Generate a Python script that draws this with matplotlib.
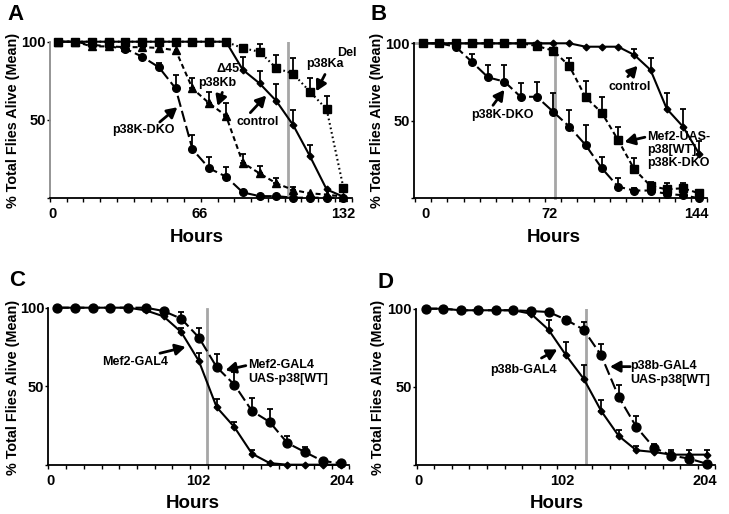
import numpy as np
import matplotlib
matplotlib.use('Agg')
import matplotlib.pyplot as plt

plt.rcParams['font.family'] = ['Liberation Sans', 'DejaVu Sans']
plt.rcParams['font.weight'] = 'bold'

W, H = 729, 514

# ── Data (survival, % alive; upward error bars) ──────────────────────────────
# Panel A: 18 time points, 0..132 h
a_ticks = ['0', '66', '132']
a_ctrl = [100, 100, 100, 100, 100, 100, 100, 100, 100, 100, 100, 82, 73.3, 62, 46.6, 26.7, 5.3, 0.6]
a_ctrl_err = [0, 0, 0, 0, 0, 0, 0, 0, 0, 0, 0, 8, 8, 11, 9.6, 7.3, 0, 0]
a_dko = [100, 100, 98, 97, 95.5, 90.4, 83.6, 70, 31, 18.8, 13.5, 3.4, 1, 1, 0, 0, 0, 0]
a_dko_err = [0, 0, 0, 0, 0, 0, 3, 8.5, 9, 7.2, 6.5, 0, 0, 0, 0, 0, 0, 0]
a_kb = [100, 100, 97, 97, 96.5, 96.5, 96, 94.5, 70, 60.5, 52.5, 22.4, 15.6, 9.2, 5, 2.8, 2, 0.6]
a_kb_err = [0, 0, 0, 0, 0, 0, 0, 0, 6.5, 7.5, 8, 5.6, 5, 3.2, 2, 0, 0, 0]
a_ka = [100, 100, 100, 100, 100, 100, 100, 100, 100, 100, 100, 95.8, 93.6, 83, 79.5, 68, 56.7, 6.4]
a_ka_err = [0, 0, 0, 0, 0, 0, 0, 0, 0, 0, 0, 0, 5, 8.5, 10, 9, 8.5, 0]

# Panel B: 18 time points, 0..144 h
b_ticks = ['0', '72', '144']
b_ctrl = [100, 100, 100, 100, 100, 100, 100, 100, 100, 100, 97.8, 97.8, 97.8, 92.5, 82.8, 57.7, 46.2, 28.6]
b_ctrl_err = [0, 0, 0, 0, 0, 0, 0, 0, 0, 0, 0, 0, 0, 3.5, 7.5, 10.4, 11.2, 8.4]
b_dko = [100, 100, 97.8, 88, 78, 75.3, 65.5, 65.5, 55.9, 46.2, 34.4, 19.4, 7.5, 5, 5, 2.8, 2, 0]
b_dko_err = [0, 0, 0, 5, 8, 10.5, 9, 9.3, 11.8, 10.8, 13, 7.4, 5.4, 1.5, 1.5, 0, 0, 0]
b_rescue = [100, 100, 100, 100, 100, 100, 100, 98.3, 95.3, 85.4, 65.2, 55.2, 37.6, 18.7, 8, 5.8, 6.5, 3.2]
b_rescue_err = [0, 0, 0, 0, 0, 0, 0, 0, 0, 5, 10.7, 10.3, 8.6, 7.1, 2.8, 3.9, 3.5, 2.2]

# Panel C: 17 time points, 0..204 h
c_ticks = ['0', '102', '204']
c_gal4 = [100, 100, 100, 100, 100, 98.3, 94.5, 84.5, 66, 36.7, 24, 7, 1, 0, 0, 0, 0]
c_gal4_err = [0, 0, 0, 0, 0, 0, 0, 2.8, 5, 5.3, 3.2, 2.6, 0, 0, 0, 0, 0]
c_uas = [100, 100, 100, 100, 100, 100, 97.9, 93, 81, 62.2, 51, 34.2, 27.2, 13.8, 8, 2.3, 1]
c_uas_err = [0, 0, 0, 0, 0, 0, 0, 4.2, 6.3, 8.5, 8, 8.5, 8.5, 4.2, 3.3, 0, 0]

# Panel D: 17 time points, 0..204 h
d_ticks = ['0', '102', '204']
d_gal4 = [100, 100, 99, 99, 99, 99, 96.8, 86.6, 70.2, 55.3, 34.7, 18.7, 9.6, 8.5, 6.8, 6.8, 6.8]
d_gal4_err = [0, 0, 0, 0, 0, 0, 0, 6, 8.5, 8.5, 6.8, 3.6, 2.5, 1.5, 3.2, 3.2, 3.2]
d_uas = [100, 100, 99, 99, 99, 99, 98.5, 97.9, 93, 86.6, 70.2, 43.6, 24.5, 11.3, 6.2, 4.3, 1]
d_uas_err = [0, 0, 0, 0, 0, 0, 0, 0, 2, 4.9, 7, 7.4, 6.8, 2.5, 2.3, 0, 0]


def px_axes(fig, left, top, right, bottom):
    return fig.add_axes([left / W, 1 - bottom / H, (right - left) / W, (bottom - top) / H])


def style_axes(ax, n, xlim, tick_pos, tick_lab, ycolor='k'):
    ax.set_xlim(*xlim)
    ax.set_ylim(0, 100)
    for s in ('top', 'right'):
        ax.spines[s].set_visible(False)
    ax.spines['left'].set_color(ycolor)
    ax.spines['left'].set_linewidth(1.3)
    ax.spines['bottom'].set_linewidth(1.3)
    ax.set_xticks(tick_pos)
    ax.set_xticklabels(tick_lab, fontsize=10.5, fontweight='bold')
    ax.set_xticks(np.arange(n + 1) - 0.5, minor=True)
    ax.tick_params(axis='x', which='major', length=0, pad=6.5)
    ax.tick_params(axis='x', which='minor', length=3, width=1, direction='out')
    ax.set_yticks([0, 50, 100])
    ax.set_yticklabels(['', '50', '100'], fontsize=10.5, fontweight='bold')
    ax.tick_params(axis='y', length=2, width=1, pad=1, colors='k')


def series(ax, y, err, marker, ms, ls):
    x = np.arange(len(y))
    y = np.asarray(y, float)
    err = np.asarray(err, float)
    m = err > 0
    ax.errorbar(x[m], y[m], yerr=[np.zeros(m.sum()), err[m]], fmt='none',
                ecolor='k', elinewidth=1.3, capsize=2.2, capthick=1.3, zorder=3,
                clip_on=False)
    ax.plot(x, y, color='k', lw=1.5, ls=ls, marker=marker, ms=ms,
            mfc='k', mec='k', zorder=4, clip_on=False)


def arrow(ax, tail, head):
    ax.annotate('', xy=head, xytext=tail,
                arrowprops=dict(arrowstyle='-|>,head_length=0.6,head_width=0.33',
                                lw=2.0, color='k', shrinkA=0, shrinkB=0))


def label(ax, x, y, s, **kw):
    ax.text(x, y, s, fontsize=9, fontweight='bold', **kw)


LONG = (0, (5.5, 2))
SHORT = (0, (2.4, 1.6))
DOT = (0, (0.8, 1.4))
GRAY = '#a6a6a6'

fig = plt.figure(figsize=(W / 100, H / 100), dpi=100)

# ── A ─────────────────────────────────────────────────────────────────────────
axA = px_axes(fig, 49.9, 41.7, 351.8, 197.7)
style_axes(axA, 18, (-0.5, 17.5), [-0.35, 8.45, 17.0], a_ticks, ycolor='#8c8c8c')
axA.plot([13.7, 13.7], [0, 100], color=GRAY, lw=2, zorder=1)
series(axA, a_ka, a_ka_err, 's', 5.5, DOT)
series(axA, a_ctrl, a_ctrl_err, 'D', 3.4, '-')
series(axA, a_kb, a_kb_err, '^', 5.5, SHORT)
series(axA, a_dko, a_dko_err, 'o', 5.5, LONG)
label(axA, 10.1, 82.5, '\u039445', ha='center', va='center')
label(axA, 9.45, 73.7, 'p38Kb', ha='center', va='center')
arrow(axA, (9.78, 67.5), (9.5, 58.8))
label(axA, 17.2, 92.9, 'Del', ha='center', va='center')
label(axA, 15.9, 85.7, 'p38Ka', ha='center', va='center')
arrow(axA, (15.9, 79), (15.38, 68.2))
label(axA, 11.9, 48.5, 'control', ha='center', va='center')
arrow(axA, (11.45, 54.5), (12.4, 65.5))
label(axA, 5.05, 43.4, 'p38K-DKO', ha='center', va='center')
arrow(axA, (6.05, 48.5), (7.1, 58))

# ── B ─────────────────────────────────────────────────────────────────────────
axB = px_axes(fig, 414.2, 43.3, 707.4, 198.3)
style_axes(axB, 18, (-0.55, 17.25), [0.14, 7.8, 16.84], b_ticks)
axB.plot([-0.55, 8.14, 8.14], [100, 100, 0], color=GRAY, lw=2, zorder=1, clip_on=False)
series(axB, b_ctrl, b_ctrl_err, 'D', 3.4, '-')
series(axB, b_rescue, b_rescue_err, 's', 5.5, SHORT)
series(axB, b_dko, b_dko_err, 'o', 5.5, LONG)
label(axB, 12.71, 72, 'control', ha='center', va='center')
arrow(axB, (12.6, 78.5), (13.2, 85.5))
label(axB, 4.86, 53.7, 'p38K-DKO', ha='center', va='center')
arrow(axB, (4.3, 60), (5.0, 70))
label(axB, 13.81, 31.2, 'Mef2-UAS-\np38[WT]\np38K-DKO', ha='left', va='center',
      linespacing=1.15)
arrow(axB, (13.65, 39.4), (12.4, 36.4))

# ── C ─────────────────────────────────────────────────────────────────────────
axC = px_axes(fig, 48.45, 307.7, 349.35, 464.7)
style_axes(axC, 17, (-0.5, 16.5), [-0.41, 7.97, 16.07], c_ticks)
axC.plot([8.46, 8.46], [0, 99.4], color=GRAY, lw=2, zorder=1)
series(axC, c_gal4, c_gal4_err, 'D', 3.4, '-')
series(axC, c_uas, c_uas_err, 'o', 6.4, LONG)
label(axC, 4.39, 65.6, 'Mef2-GAL4', ha='center', va='center')
arrow(axC, (5.8, 71), (7.25, 75))
label(axC, 10.79, 59, 'Mef2-GAL4\nUAS-p38[WT]', ha='left', va='center', linespacing=1.2)
arrow(axC, (10.65, 63.1), (9.5, 60.2))

# ── D ─────────────────────────────────────────────────────────────────────────
axD = px_axes(fig, 415.9, 308.7, 715.35, 465.3)
style_axes(axD, 17, (-0.55, 16.3), [-0.38, 7.8, 15.9], d_ticks)
axD.plot([9.15, 9.15], [0, 100], color=GRAY, lw=2, zorder=1)
series(axD, d_gal4, d_gal4_err, 'D', 3.4, '-')
series(axD, d_uas, d_uas_err, 'o', 6.4, LONG)
label(axD, 5.59, 60.9, 'p38b-GAL4', ha='center', va='center')
arrow(axD, (6.6, 68.5), (7.5, 74))
label(axD, 11.65, 58.7, 'p38b-GAL4\nUAS-p38[WT]', ha='left', va='center', linespacing=1.2)
arrow(axD, (11.65, 63), (10.5, 63))

# ── Figure-level text ─────────────────────────────────────────────────────────
def ftext(x, y, s, **kw):
    fig.text(x / W, 1 - y / H, s, fontweight='bold', ha='center', va='center', **kw)

ftext(15, 15, 'A', fontsize=16)
ftext(379, 15, 'B', fontsize=16)
ftext(16.7, 280, 'C', fontsize=16)
ftext(385.7, 282, 'D', fontsize=16)
for x, y in [(197, 238), (554, 238), (192.7, 503), (557, 503)]:
    ftext(x, y, 'Hours', fontsize=13.5)
for x, y in [(13, 120), (377, 120), (12.7, 387), (378, 387)]:
    ftext(x, y, '% Total Flies Alive (Mean)', fontsize=10.4, rotation=90)

fig.savefig('out.png', dpi=100)
